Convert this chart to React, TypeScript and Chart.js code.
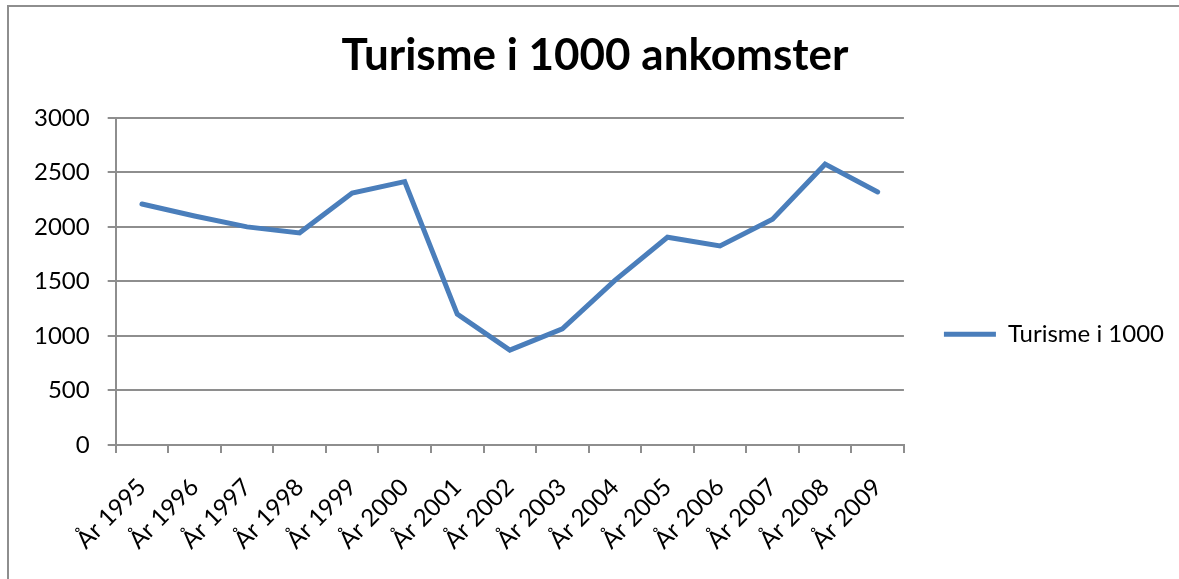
import React, { useEffect, useRef } from "react";
import { Chart, registerables } from "chart.js";

Chart.register(...registerables);

const categories: string[] = [
  "År 1995", "År 1996", "År 1997", "År 1998", "År 1999", "År 2000", "År 2001", "År 2002",
  "År 2003", "År 2004", "År 2005", "År 2006", "År 2007", "År 2008", "År 2009",
];
const tourism: number[] = [
  2210, 2100, 2000, 1945, 2310, 2415, 1200, 870, 1065, 1510, 1905, 1825, 2070, 2575, 2320,
];
const seriesName = "Turisme i 1000";
const chartTitle = "Turisme i 1000 ankomster";
const yMin = 0;
const yMax = 3000;
const yStep = 500;

const GRID = "#8e8e8e";
const LINE = "#4a7ebb";
const FONT = "Lato, 'Open Sans', sans-serif";

export default function App() {
  const ref = useRef<HTMLCanvasElement | null>(null);

  useEffect(() => {
    if (!ref.current) return;
    const chart = new Chart(ref.current, {
      type: "line",
      data: {
        labels: categories,
        datasets: [
          {
            label: seriesName,
            data: tourism,
            borderColor: LINE,
            backgroundColor: LINE,
            borderWidth: 5,
            pointRadius: 0,
            pointHoverRadius: 0,
            tension: 0,
            borderCapStyle: "round",
            borderJoinStyle: "miter",
            fill: false,
          },
        ],
      },
      options: {
        responsive: false,
        animation: false,
        layout: { padding: { left: 16, right: 5, top: 0, bottom: 27 } },
        plugins: {
          title: {
            display: true,
            text: chartTitle,
            color: "#000",
            font: { family: FONT, size: 44, weight: "bold" },
            padding: { top: 29, bottom: 36 },
          },
          legend: {
            display: true,
            position: "right",
            title: {
              display: true,
              text: "",
              font: { size: 2 },
              padding: { top: 57, bottom: 57 },
            },
            labels: {
              usePointStyle: true,
              pointStyle: "line",
              pointStyleWidth: 52,
              padding: 40,
              color: "#000",
              font: { family: FONT, size: 24 },
            },
          },
          tooltip: { enabled: false },
        },
        scales: {
          x: {
            type: "category",
            offset: true,
            afterFit: (scale: any) => {
              scale.height = 107;
            },
            grid: {
              offset: true,
              drawOnChartArea: false,
              drawTicks: true,
              tickLength: 8,
              color: GRID,
              lineWidth: 2,
            },
            border: { display: true, color: GRID, width: 2 },
            ticks: {
              autoSkip: false,
              minRotation: 45,
              maxRotation: 45,
              padding: 20,
              color: "#000",
              font: { family: FONT, size: 24 },
            },
          },
          y: {
            min: yMin,
            max: yMax,
            grid: {
              drawTicks: true,
              tickLength: 8,
              color: GRID,
              lineWidth: 2,
            },
            border: { display: true, color: GRID, width: 2 },
            ticks: {
              stepSize: yStep,
              padding: 18,
              color: "#000",
              font: { family: FONT, size: 24 },
              callback: (v: any) => String(v),
            },
          },
        },
      },
    });
    return () => chart.destroy();
  }, []);

  return (
    <div
      style={{
        position: "fixed",
        left: 0,
        top: 0,
        width: 1179,
        height: 579,
        background: "#fff",
        overflow: "hidden",
      }}
    >
      <div
        style={{
          position: "absolute",
          left: 7,
          top: 5,
          width: 1200,
          height: 600,
          borderTop: "2px solid #8e8e8e",
          borderLeft: "2px solid #8e8e8e",
        }}
      />
      <canvas
        ref={ref}
        width={1179}
        height={579}
        style={{ position: "absolute", left: 0, top: 0, width: 1179, height: 579 }}
      />
    </div>
  );
}
